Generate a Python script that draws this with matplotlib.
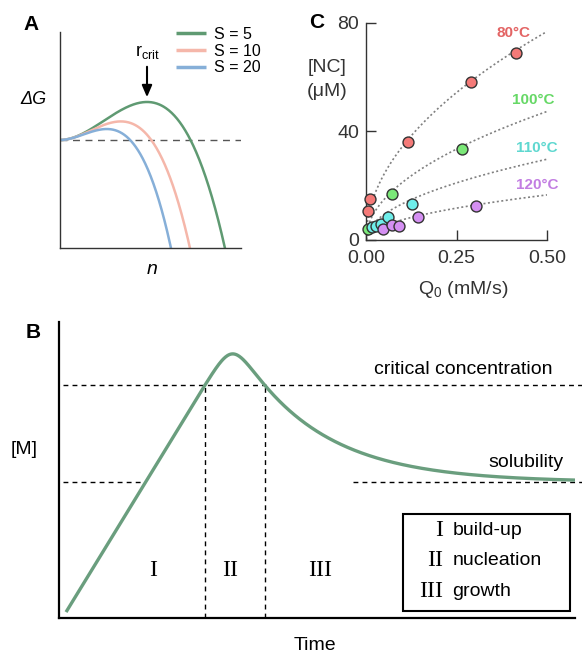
import numpy as np
import matplotlib
matplotlib.use('Agg')
import matplotlib.pyplot as plt
from matplotlib.patches import Rectangle

plt.rcParams['font.family'] = ['Liberation Sans', 'DejaVu Sans']
plt.rcParams['mathtext.default'] = 'regular'

# --- panel A: classical nucleation, dG = a*r^2 - b*ln(S)*r^3 (schematic units)
supersat = [5, 10, 20]
supersat_labels = ['S = 5', 'S = 10', 'S = 20']
supersat_colors = ['#5f9a72', '#f5b7aa', '#86afd8']
surf_term = 0.01506
vol_term = 7.17e-5

# --- panel B: LaMer curve (fractions of axis)
t_start = 0.0136
c_start = 0.02
rise_rate = 2.85
crit_level = 0.787
sol_level = 0.459
t_crit_up = 0.283
t_crit_down = 0.399
decay_tau = 0.156
peak_soft = 0.075
stages = ['I', 'II', 'III']
stage_names = ['build-up', 'nucleation', 'growth']
stage_x = [0.182, 0.331, 0.506]

# --- panel C: [NC] vs Q0
temps = ['80°C', '100°C', '110°C', '120°C']
temp_colors = ['#f47a78', '#7be878', '#6eeeea', '#d48ff2']
label_colors = ['#e36464', '#66d866', '#5fd8d0', '#c27ee2']
q0_80 = [0.0064, 0.011, 0.115, 0.289, 0.414]
nc_80 = [10.8, 15.1, 36.2, 58.1, 68.9]
q0_100 = [0.0064, 0.071, 0.265]
nc_100 = [3.9, 16.8, 33.6]
q0_110 = [0.016, 0.027, 0.041, 0.062, 0.128]
nc_110 = [4.7, 5.2, 5.9, 8.6, 13.3]
q0_120 = [0.046, 0.073, 0.092, 0.144, 0.304]
nc_120 = [4.2, 5.5, 5.2, 8.6, 12.5]
fit_coef = [108.7, 67.0, 42.1, 23.5]  # [NC] = k*sqrt(Q0)
label_x = [0.453, 0.522, 0.530, 0.533]
label_y = [76.3, 51.6, 33.9, 20.3]

fig = plt.figure(figsize=(5.82, 6.58), dpi=100)

# ---------------- A
axA = fig.add_axes([0.1031, 0.6231, 0.3110, 0.3283])
r = np.linspace(0, 181, 400)
for S, lab, col in zip(supersat, supersat_labels, supersat_colors):
  dG = surf_term * r**2 - vol_term * np.log(S) * r**3
  axA.plot(r, dG, color=col, lw=1.8, label=lab, solid_capstyle='butt')
axA.axhline(0, color='#555555', lw=1.0, dashes=(5, 4), zorder=0)
axA.set_xlim(0, 181)
axA.set_ylim(-108, 108)
for s in ['top', 'right']:
  axA.spines[s].set_visible(False)
for s in ['left', 'bottom']:
  axA.spines[s].set_color('#333333')
  axA.spines[s].set_linewidth(1.0)
axA.set_xticks([])
axA.set_yticks([])
axA.annotate('', xy=(87, 40), xytext=(87, 76),
             arrowprops=dict(arrowstyle='-|>,head_width=0.3,head_length=0.7',
                             color='black', lw=1.5))
axA.text(87, 88, 'r$_{crit}$', ha='center', va='center', fontsize=13)
leg = axA.legend(loc='upper left', bbox_to_anchor=(176/582, 1 - 27/658),
                 bbox_transform=fig.transFigure, frameon=False, fontsize=11.5,
                 handlelength=1.9, handletextpad=0.45, labelspacing=0.1,
                 borderpad=0, borderaxespad=0)
for ln in leg.get_lines():
  ln.set_linewidth(2.5)
fig.text(33/582, 1 - 100/658, 'ΔG', style='italic', fontsize=13, ha='center', va='center')
fig.text(152/582, 1 - 270/658, 'n', style='italic', fontsize=14, ha='center', va='center')
fig.text(31/582, 1 - 25/658, 'A', fontweight='bold', fontsize=15, ha='center', va='center')

# ---------------- C
axC = fig.add_axes([0.6289, 0.6353, 0.3110, 0.3298])
qq = np.linspace(0, 0.5, 200)
for k in fit_coef:
  axC.plot(qq, k * np.sqrt(qq), color='#808080', lw=1.2, ls=(0, (1.2, 1.5)), zorder=1)
series = [(q0_80, nc_80), (q0_100, nc_100), (q0_110, nc_110), (q0_120, nc_120)]
for (xs, ys), col in zip(series, temp_colors):
  axC.scatter(xs, ys, s=62, color=col, edgecolor='#333333', linewidth=1.0,
              zorder=5, clip_on=False)
for name, col, xx, yy in zip(temps, label_colors, label_x, label_y):
  axC.text(xx, yy, name, color=col, fontsize=11, fontweight='bold',
           ha='right', va='center', clip_on=False)
axC.set_xlim(0, 0.5)
axC.set_ylim(0, 80)
axC.set_xticks([0, 0.25, 0.5])
axC.set_xticklabels(['0.00', '0.25', '0.50'])
axC.set_yticks([0, 40, 80])
axC.tick_params(direction='in', length=7, width=1.0, labelsize=14,
                colors='#333333', labelcolor='#333333')
axC.tick_params(axis='x', pad=7)
axC.tick_params(axis='y', pad=5)
for s in ['top', 'right']:
  axC.spines[s].set_visible(False)
for s in ['left', 'bottom']:
  axC.spines[s].set_color('#333333')
  axC.spines[s].set_linewidth(1.0)
fig.text(317/582, 1 - 23/658, 'C', fontweight='bold', fontsize=15, ha='center', va='center')
fig.text(327/582, 1 - 68/658, '[NC]', fontsize=14, ha='center', va='center', color='#333333')
fig.text(327/582, 1 - 92/658, '(μM)', fontsize=14, ha='center', va='center', color='#333333')
fig.text(463/582, 1 - 290/658, 'Q$_0$ (mM/s)', fontsize=14, ha='center', va='center',
         color='#333333')

# ---------------- B
axB = fig.add_axes([0.1014, 0.0608, 0.8866, 0.4498])
t = np.linspace(t_start, 1.0, 800)
rise = c_start + rise_rate * (t - t_start)
decay = sol_level + (crit_level - sol_level) * np.exp(-(t - t_crit_down) / decay_tau)
conc = -peak_soft * np.logaddexp(-rise / peak_soft, -decay / peak_soft)
axB.plot(t, conc, color='#6a9e7e', lw=2.4, solid_capstyle='butt', zorder=3)
dash = dict(color='black', lw=1.0, dashes=(3.5, 3))
axB.plot([0.008, 1.013], [crit_level, crit_level], clip_on=False, **dash)
axB.plot([0.008, 0.163], [sol_level, sol_level], clip_on=False, **dash)
axB.plot([0.570, 1.013], [sol_level, sol_level], clip_on=False, **dash)
axB.plot([t_crit_up, t_crit_up], [0, crit_level], **dash)
axB.plot([t_crit_down, t_crit_down], [0, crit_level], **dash)
axB.set_xlim(0, 1)
axB.set_ylim(0, 1)
axB.set_xticks([])
axB.set_yticks([])
for s in ['top', 'right']:
  axB.spines[s].set_visible(False)
for s in ['left', 'bottom']:
  axB.spines[s].set_linewidth(1.6)
for lab, xx in zip(stages, stage_x):
  axB.text(xx, 0.162, lab, family='Liberation Serif', fontsize=17,
           ha='center', va='center')
axB.text(0.957, 0.838, 'critical concentration', fontsize=14, ha='right', va='center')
axB.text(0.977, 0.527, 'solubility', fontsize=14, ha='right', va='center')
axB.add_patch(Rectangle((0.667, 0.024), 0.323, 0.327, fill=False,
                        edgecolor='black', lw=1.5))
for i, (lab, name) in enumerate(zip(stages, stage_names)):
  yy = [0.294, 0.193, 0.088][i]
  axB.text(0.744, yy, lab, family='Liberation Serif', fontsize=17,
           ha='right', va='center')
  axB.text(0.762, yy, name, fontsize=14, ha='left', va='center')
fig.text(24/582, 1 - 449/658, '[M]', fontsize=14, ha='center', va='center')
fig.text(315/582, 1 - 645/658, 'Time', fontsize=14, ha='center', va='center')
fig.text(33/582, 1 - 333/658, 'B', fontweight='bold', fontsize=15, ha='center', va='center')

fig.savefig('out.png', dpi=100)
